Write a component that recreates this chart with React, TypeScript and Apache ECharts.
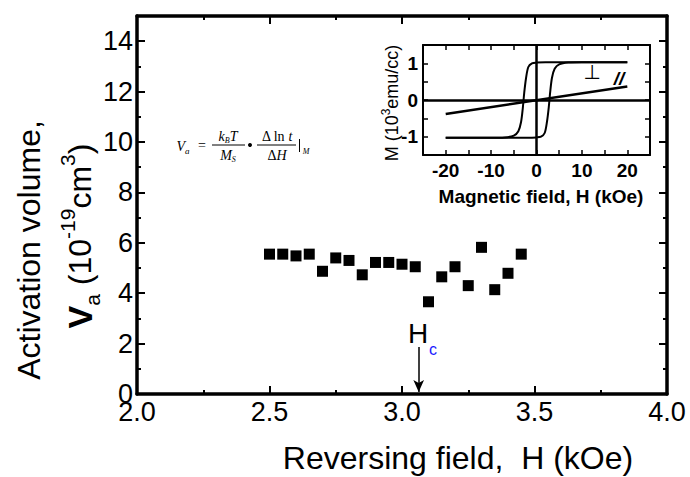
import React, { useEffect, useRef } from "react";
import * as echarts from "echarts";

// Main plot data
const fieldH = [2.5, 2.55, 2.6, 2.65, 2.7, 2.75, 2.8, 2.85, 2.9, 2.95, 3.0, 3.05, 3.1, 3.15, 3.2, 3.25, 3.3, 3.35, 3.4, 3.45];
const activationVolume = [5.55, 5.55, 5.48, 5.55, 4.87, 5.4, 5.3, 4.73, 5.22, 5.22, 5.15, 5.05, 3.66, 4.65, 5.05, 4.3, 5.82, 4.14, 4.79, 5.55];
const hcField = 3.063;
const hcArrowFrom = 1.87;
const hcArrowTo = 0.08;

// Inset: perpendicular hysteresis loop (descending and ascending branches)
const perpDownH = [20, 10, 2, 0, -1, -1.8, -2.3, -2.7, -3, -3.4, -4, -5, -7, -10, -20];
const perpDownM = [1.03, 1.03, 1.03, 1.02, 1.0, 0.9, 0.6, 0.2, -0.2, -0.6, -0.85, -0.97, -1.02, -1.03, -1.03];
const perpUpH = [-20, -10, -2, 0, 1, 1.8, 2.3, 2.7, 3, 3.4, 4, 5, 7, 10, 20];
const perpUpM = [-1.03, -1.03, -1.03, -1.02, -1.0, -0.9, -0.6, -0.2, 0.2, 0.6, 0.85, 0.97, 1.02, 1.03, 1.03];
// Inset: parallel (in-plane) curve
const parH = [-20, 20];
const parM = [-0.38, 0.37];

const zip = (a: number[], b: number[]) => a.map((v, i) => [v, b[i]]);

export default function App() {
  const ref = useRef<HTMLDivElement>(null);
  useEffect(() => {
    if (!ref.current) return;
    const chart = echarts.init(ref.current, null, { renderer: "svg" });
    const black = "#000";
    const mainFont = "Arial, 'Liberation Sans', sans-serif";
    const serif = "'Times New Roman', 'Liberation Serif', serif";

    const mainX = (pos: "bottom" | "top", labels: boolean) => ({
      type: "value",
      gridIndex: 0,
      position: pos,
      min: 2,
      max: 4,
      interval: 0.5,
      axisLine: { show: true, onZero: false, lineStyle: { color: black, width: 3.5 } },
      axisTick: { show: true, inside: true, length: 8, lineStyle: { color: black, width: 2 } },
      minorTick: { show: true, splitNumber: 2, length: 4, lineStyle: { color: black, width: 2 } },
      axisLabel: {
        show: labels,
        formatter: (v: number) => v.toFixed(1),
        fontSize: 27,
        color: black,
        fontFamily: mainFont,
        margin: 4,
      },
      splitLine: { show: false },
    });
    const mainY = (pos: "left" | "right", labels: boolean) => ({
      type: "value",
      gridIndex: 0,
      position: pos,
      min: 0,
      max: 15,
      interval: 2,
      axisLine: { show: true, onZero: false, lineStyle: { color: black, width: 3.5 } },
      axisTick: { show: true, inside: true, length: 8, lineStyle: { color: black, width: 2 } },
      minorTick: { show: true, splitNumber: 2, length: 4, lineStyle: { color: black, width: 2 } },
      axisLabel: {
        show: labels,
        formatter: (v: number) => (v > 14 ? "" : String(v)),
        fontSize: 27,
        color: black,
        fontFamily: mainFont,
        margin: 4,
      },
      splitLine: { show: false },
    });
    const insetX = (pos: "bottom" | "top", labels: boolean) => ({
      type: "value",
      gridIndex: 1,
      position: pos,
      min: -25,
      max: 25,
      interval: 5,
      axisLine: { show: true, onZero: false, lineStyle: { color: black, width: 2 } },
      axisTick: { show: true, inside: true, length: 5, lineStyle: { color: black, width: 1.5 } },
      axisLabel: {
        show: labels,
        formatter: (v: number) => (v % 10 === 0 ? String(v) : ""),
        fontSize: 19,
        fontWeight: "bold",
        color: black,
        fontFamily: mainFont,
        margin: 6,
      },
      splitLine: { show: false },
    });
    const insetY = (pos: "left" | "right", labels: boolean) => ({
      type: "value",
      gridIndex: 1,
      position: pos,
      min: -1.5,
      max: 1.5,
      interval: 0.5,
      axisLine: { show: true, onZero: false, lineStyle: { color: black, width: 2 } },
      axisTick: { show: true, inside: true, length: 5, lineStyle: { color: black, width: 1.5 } },
      axisLabel: {
        show: labels,
        formatter: (v: number) => (Number.isInteger(v) ? String(v) : ""),
        fontSize: 19,
        fontWeight: "bold",
        color: black,
        fontFamily: mainFont,
        margin: 5,
      },
      splitLine: { show: false },
    });

    const option: any = {
      animation: false,
      backgroundColor: "#fff",
      grid: [
        { left: 137, top: 16, width: 530, height: 378 },
        { left: 423, top: 45, width: 227, height: 110 },
      ],
      xAxis: [mainX("bottom", true), mainX("top", false), insetX("bottom", true), insetX("top", false)],
      yAxis: [mainY("left", true), mainY("right", false), insetY("left", true), insetY("right", false)],
      series: [
        {
          type: "scatter",
          xAxisIndex: 0,
          yAxisIndex: 0,
          data: zip(fieldH, activationVolume),
          symbol: "rect",
          symbolSize: 11,
          itemStyle: { color: black, opacity: 1 },
          markLine: {
            silent: true,
            symbol: ["none", "arrow"],
            symbolSize: [8, 12],
            label: { show: false },
            lineStyle: { color: black, width: 1.5, type: "solid" },
            data: [[{ coord: [hcField, hcArrowFrom] }, { coord: [hcField, hcArrowTo] }]],
          },
        },
        {
          type: "line",
          xAxisIndex: 2,
          yAxisIndex: 2,
          data: zip(perpDownH, perpDownM),
          showSymbol: false,
          smooth: 0.3,
          lineStyle: { color: black, width: 2 },
          markLine: {
            silent: true,
            symbol: "none",
            label: { show: false },
            lineStyle: { color: black, width: 2.5, type: "solid" },
            data: [{ yAxis: 0 }, { xAxis: 0 }],
          },
        },
        {
          type: "line",
          xAxisIndex: 2,
          yAxisIndex: 2,
          data: zip(perpUpH, perpUpM),
          showSymbol: false,
          smooth: 0.3,
          lineStyle: { color: black, width: 2 },
        },
        {
          type: "line",
          xAxisIndex: 2,
          yAxisIndex: 2,
          data: zip(parH, parM),
          showSymbol: false,
          lineStyle: { color: black, width: 2.5 },
        },
      ],
      graphic: [
        // main x title
        {
          type: "text",
          x: 458,
          y: 458,
          style: {
            text: "Reversing field,  H (kOe)",
            font: `32px ${mainFont}`,
            fill: black,
            align: "center",
            verticalAlign: "middle",
          },
        },
        // main y title line 1
        {
          type: "text",
          x: 29,
          y: 250,
          rotation: Math.PI / 2,
          style: {
            text: "Activation volume,",
            font: `32px ${mainFont}`,
            fill: black,
            align: "center",
            verticalAlign: "middle",
          },
        },
        // main y title line 2
        {
          type: "text",
          x: 80,
          y: 236,
          rotation: Math.PI / 2,
          style: {
            text: "{v|V}{sub|a}{n| (10}{sup|-19}{n|cm}{sup|3}{n|)}",
            align: "center",
            verticalAlign: "middle",
            fill: black,
            rich: {
              v: { fontSize: 34, fontWeight: "bold", fontFamily: mainFont, fill: black, lineHeight: 46 },
              n: { fontSize: 32, fontFamily: mainFont, fill: black, lineHeight: 46 },
              sub: { fontSize: 21, fontFamily: mainFont, fill: black, verticalAlign: "bottom", lineHeight: 46 },
              sup: { fontSize: 21, fontFamily: mainFont, fill: black, verticalAlign: "top", lineHeight: 46 },
            },
          },
        },
        // Hc label
        {
          type: "text",
          x: 418,
          y: 333,
          style: { text: "H", font: `28px ${mainFont}`, fill: black, align: "center", verticalAlign: "middle" },
        },
        {
          type: "text",
          x: 433,
          y: 349,
          style: { text: "c", font: `16px ${mainFont}`, fill: "#1a1aff", align: "center", verticalAlign: "middle" },
        },
        // inset y title
        {
          type: "text",
          x: 392,
          y: 103,
          rotation: Math.PI / 2,
          style: {
            text: "{n|M (10}{sup|3}{n|emu/cc)}",
            align: "center",
            verticalAlign: "middle",
            fill: black,
            rich: {
              n: { fontSize: 18, fontFamily: mainFont, fill: black, lineHeight: 24 },
              sup: { fontSize: 12, fontFamily: mainFont, fill: black, verticalAlign: "top", lineHeight: 24 },
            },
          },
        },
        // inset x title
        {
          type: "text",
          x: 541,
          y: 196,
          style: {
            text: "Magnetic field, H (kOe)",
            font: `bold 19px ${mainFont}`,
            fill: black,
            align: "center",
            verticalAlign: "middle",
          },
        },
        // inset curve labels
        {
          type: "text",
          x: 592,
          y: 72,
          style: { text: "⊥", font: `20px 'DejaVu Sans', sans-serif`, fill: black, align: "center", verticalAlign: "middle" },
        },
        {
          type: "text",
          x: 619,
          y: 78,
          style: { text: "//", font: `italic bold 19px ${mainFont}`, fill: black, align: "center", verticalAlign: "middle" },
        },
        // formula
        {
          type: "text",
          x: 183,
          y: 146,
          style: {
            text: "{i|V}{s|a}",
            align: "center",
            verticalAlign: "middle",
            rich: {
              i: { fontSize: 14, fontStyle: "italic", fontFamily: serif, fill: black, lineHeight: 18 },
              s: { fontSize: 9, fontStyle: "italic", fontFamily: serif, fill: black, verticalAlign: "bottom", lineHeight: 18 },
            },
          },
        },
        {
          type: "text",
          x: 202,
          y: 145,
          style: { text: "=", font: `14px ${serif}`, fill: black, align: "center", verticalAlign: "middle" },
        },
        {
          type: "text",
          x: 228,
          y: 136,
          style: {
            text: "{i|k}{s|B}{i|T}",
            align: "center",
            verticalAlign: "middle",
            rich: {
              i: { fontSize: 14, fontStyle: "italic", fontFamily: serif, fill: black, lineHeight: 16 },
              s: { fontSize: 8, fontStyle: "italic", fontFamily: serif, fill: black, verticalAlign: "bottom", lineHeight: 16 },
            },
          },
        },
        { type: "line", shape: { x1: 212, y1: 145, x2: 245, y2: 145 }, style: { stroke: black, lineWidth: 1 } },
        {
          type: "text",
          x: 228,
          y: 155,
          style: {
            text: "{i|M}{s|S}",
            align: "center",
            verticalAlign: "middle",
            rich: {
              i: { fontSize: 14, fontStyle: "italic", fontFamily: serif, fill: black, lineHeight: 16 },
              s: { fontSize: 8, fontStyle: "italic", fontFamily: serif, fill: black, verticalAlign: "bottom", lineHeight: 16 },
            },
          },
        },
        { type: "circle", shape: { cx: 250, cy: 145, r: 2 }, style: { fill: black } },
        {
          type: "text",
          x: 277,
          y: 136,
          style: {
            text: "{n|Δ ln }{i|t}",
            align: "center",
            verticalAlign: "middle",
            rich: {
              n: { fontSize: 14, fontFamily: serif, fill: black },
              i: { fontSize: 14, fontStyle: "italic", fontFamily: serif, fill: black },
            },
          },
        },
        { type: "line", shape: { x1: 257, y1: 145, x2: 296, y2: 145 }, style: { stroke: black, lineWidth: 1 } },
        {
          type: "text",
          x: 277,
          y: 155,
          style: {
            text: "{n|Δ}{i|H}",
            align: "center",
            verticalAlign: "middle",
            rich: {
              n: { fontSize: 14, fontFamily: serif, fill: black },
              i: { fontSize: 14, fontStyle: "italic", fontFamily: serif, fill: black },
            },
          },
        },
        { type: "line", shape: { x1: 299.5, y1: 139, x2: 299.5, y2: 152 }, style: { stroke: black, lineWidth: 1 } },
        {
          type: "text",
          x: 306,
          y: 151,
          style: { text: "M", font: `italic 8px ${serif}`, fill: black, align: "center", verticalAlign: "middle" },
        },
      ],
    };
    chart.setOption(option);
    return () => chart.dispose();
  }, []);
  return <div ref={ref} style={{ width: 690, height: 477, position: "absolute", left: 0, top: 0 }} />;
}
